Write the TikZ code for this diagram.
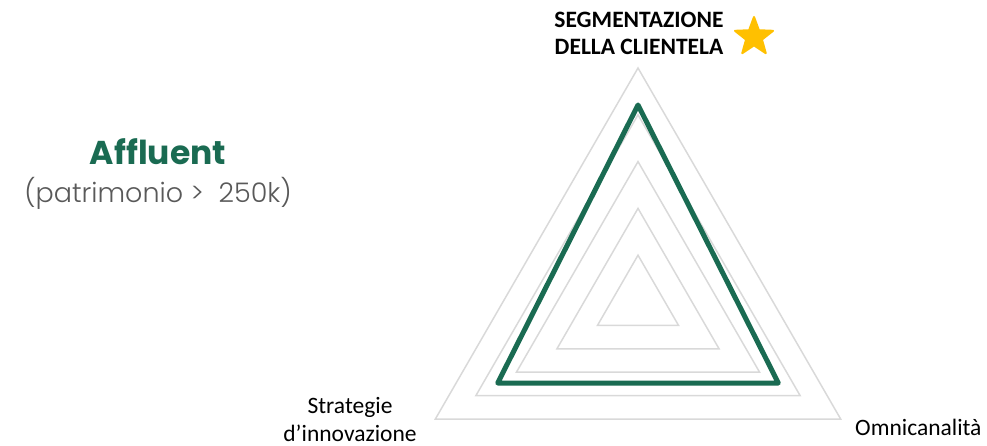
\documentclass[tikz,border=0pt]{standalone}
\usepackage{fontspec}
\setmainfont{Carlito}
\newfontfamily\popfont{Poppins}
\newfontfamily\poplight{Poppins Light}
\usetikzlibrary{calc,shapes.geometric}
\definecolor{grn}{HTML}{1A6B52}
\definecolor{gridc}{HTML}{D9D9D9}
\definecolor{gold}{HTML}{FFC000}
\definecolor{txtgrey}{HTML}{595959}
\begin{document}
\begin{tikzpicture}[x=1pt,y=-1pt,
  gridtri/.style={draw=gridc,line width=1.5pt,line join=miter},
  datatri/.style={draw=grn,line width=5pt,line join=round},
  axlabel/.style={font=\fontsize{23.5}{27.5}\selectfont,text=black,align=center,inner sep=0pt}]
\useasboundingbox (0,0) rectangle (987,446);
\coordinate (c) at (638,302);
\foreach \k in {1,...,5}{
  \pgfmathsetmacro{\r}{\k*46.8}
  \pgfmathsetmacro{\h}{0.866*\r}
  \pgfmathsetmacro{\v}{0.5*\r}
  \coordinate (t\k) at ($(c)+(0,-\r)$);
  \coordinate (l\k) at ($(c)+(-\h,\v)$);
  \coordinate (r\k) at ($(c)+(\h,\v)$);
  \draw[gridtri] (t\k) -- (r\k) -- (l\k) -- cycle;
}
\coordinate (gt) at ($(c)+(0,-197)$);
\coordinate (gl) at ($(c)+(-140.3,81)$);
\coordinate (gr) at ($(c)+(140.3,81)$);
\draw[datatri] (gt) -- (gr) -- (gl) -- cycle;
\node[font=\bfseries\fontsize{23.5}{27}\selectfont,align=center,inner sep=0pt,anchor=base] (seg) at (639,55) {SEGMENTAZIONE\\DELLA CLIENTELA};
\node[star,star points=5,star point ratio=2.4,fill=gold,draw=gold,line width=2pt,line join=round,minimum size=40pt,inner sep=0pt] (star) at (754,37) {};
\node[axlabel,anchor=base] (strat) at (350,441) {Strategie\\d’innovazione};
\node[axlabel,anchor=base west] (omni) at (855,435) {Omnicanalità};
\node[font=\popfont\bfseries\fontsize{33}{36}\selectfont,text=grn,inner sep=0pt,anchor=base] (aff) at (158,165) {Affluent};
\node[font=\poplight\fontsize{27}{30}\selectfont,text=txtgrey,inner sep=0pt,anchor=base] (pat) at (158,203) {(patrimonio >\ \ 250k)};
\end{tikzpicture}
\end{document}
